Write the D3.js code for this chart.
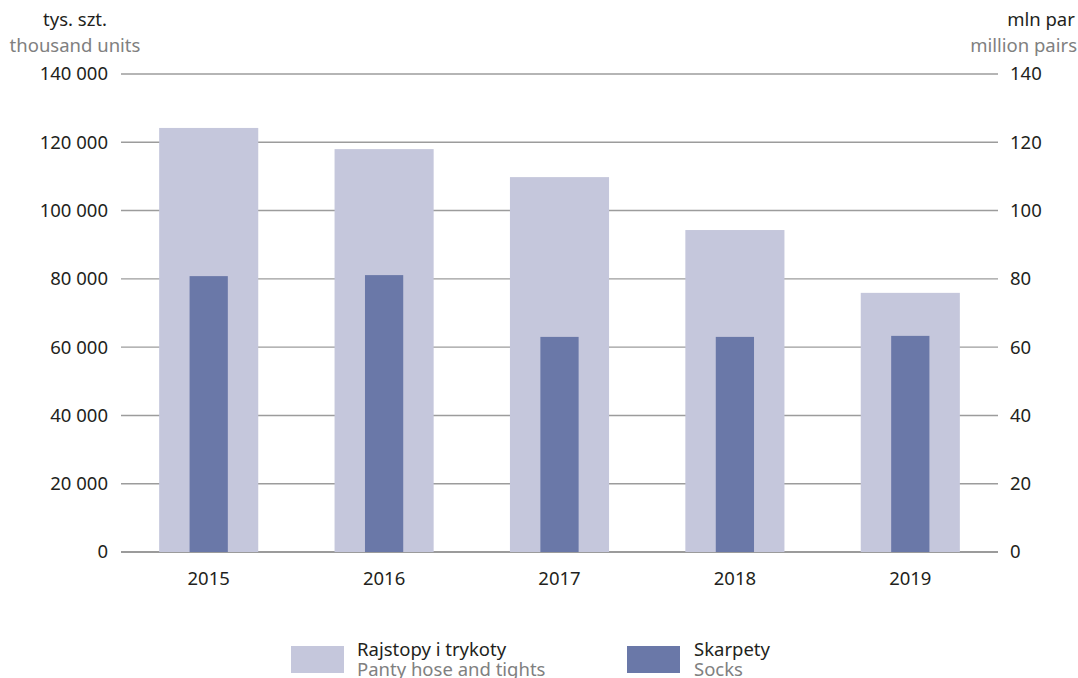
<!DOCTYPE html>
<html><head><meta charset="utf-8">
<script src="https://cdn.jsdelivr.net/npm/d3@7"></script>
<style>body{margin:0;background:#fff;} svg{display:block;} text{font-family:"Noto Sans",sans-serif;}</style>
</head><body>
<svg id="c" width="1078" height="678"></svg>
<script>
const years = ["2015","2016","2017","2018","2019"];
const tights = [124200, 118000, 109800, 94300, 75900]; // thousand units
const socks = [80.8, 81.1, 63.0, 63.0, 63.3]; // million pairs
const leftTicks = [0,20000,40000,60000,80000,100000,120000,140000];
const rightTicks = [0,20,40,60,80,100,120,140];
const seriesNames = [["Rajstopy i trykoty","Panty hose and tights"],["Skarpety","Socks"]];
const colors = ["#c5c7dc","#6a78a8"];

const svg = d3.select("#c");
const x0 = 121, x1 = 998, yTop = 74, yBot = 552;
const x = d3.scaleBand().domain(years).range([x0,x1]).padding(0);
const yL = d3.scaleLinear().domain([0,140000]).range([yBot,yTop]);
const yR = d3.scaleLinear().domain([0,140]).range([yBot,yTop]);
const fmt = d => d3.format(",")(d).replace(/,/g," ");
const fs = 18.5;

// gridlines
svg.append("g").selectAll("line").data(leftTicks).join("line")
  .attr("x1",x0).attr("x2",x1)
  .attr("y1",d=>yL(d)).attr("y2",d=>yL(d))
  .attr("stroke",d=>d===0?"#7a7a7a":"#9c9c9c").attr("stroke-width",1.4);

const bw = x.bandwidth();
const wide = bw*0.565, narrow = bw*0.218;
svg.append("g").selectAll("rect").data(years).join("rect")
  .attr("x",(d)=>x(d)+bw/2-wide/2).attr("width",wide)
  .attr("y",(d,i)=>yL(tights[i])).attr("height",(d,i)=>yL(0)-yL(tights[i]))
  .attr("fill",colors[0]);
svg.append("g").selectAll("rect").data(years).join("rect")
  .attr("x",(d)=>x(d)+bw/2-narrow/2).attr("width",narrow)
  .attr("y",(d,i)=>yR(socks[i])).attr("height",(d,i)=>yR(0)-yR(socks[i]))
  .attr("fill",colors[1]);

// left labels
svg.append("g").selectAll("text").data(leftTicks).join("text")
  .attr("x",108).attr("y",d=>yL(d)).attr("dy","0.35em")
  .attr("text-anchor","end").attr("font-size",fs).attr("fill","#231f20")
  .text(fmt);
svg.append("g").selectAll("text").data(rightTicks).join("text")
  .attr("x",1010).attr("y",d=>yR(d)).attr("dy","0.35em")
  .attr("text-anchor","start").attr("font-size",fs).attr("fill","#231f20")
  .text(d=>d);
// x labels
svg.append("g").selectAll("text").data(years).join("text")
  .attr("x",d=>x(d)+bw/2).attr("y",585)
  .attr("text-anchor","middle").attr("font-size",fs).attr("fill","#231f20")
  .text(d=>d);

// axis titles
svg.append("text").attr("x",75).attr("y",26).attr("text-anchor","middle").attr("font-size",fs).attr("fill","#231f20").text("tys. szt.");
svg.append("text").attr("x",75).attr("y",52).attr("text-anchor","middle").attr("font-size",fs).attr("fill","#808080").text("thousand units");
svg.append("text").attr("x",1041).attr("y",26).attr("text-anchor","middle").attr("font-size",fs).attr("fill","#231f20").text("mln par");
svg.append("text").attr("x",1077).attr("y",52).attr("text-anchor","end").attr("font-size",fs).attr("fill","#808080").text("million pairs");

// legend
const lg = [{sx:291, tx:357},{sx:627, tx:694}];
lg.forEach((p,i)=>{
  svg.append("rect").attr("x",p.sx).attr("y",646).attr("width",53).attr("height",27).attr("fill",colors[i]);
  svg.append("text").attr("x",p.tx).attr("y",656).attr("font-size",fs).attr("fill","#231f20").text(seriesNames[i][0]);
  svg.append("text").attr("x",p.tx).attr("y",676).attr("font-size",fs).attr("fill","#808080").text(seriesNames[i][1]);
});
</script>
</body></html>
